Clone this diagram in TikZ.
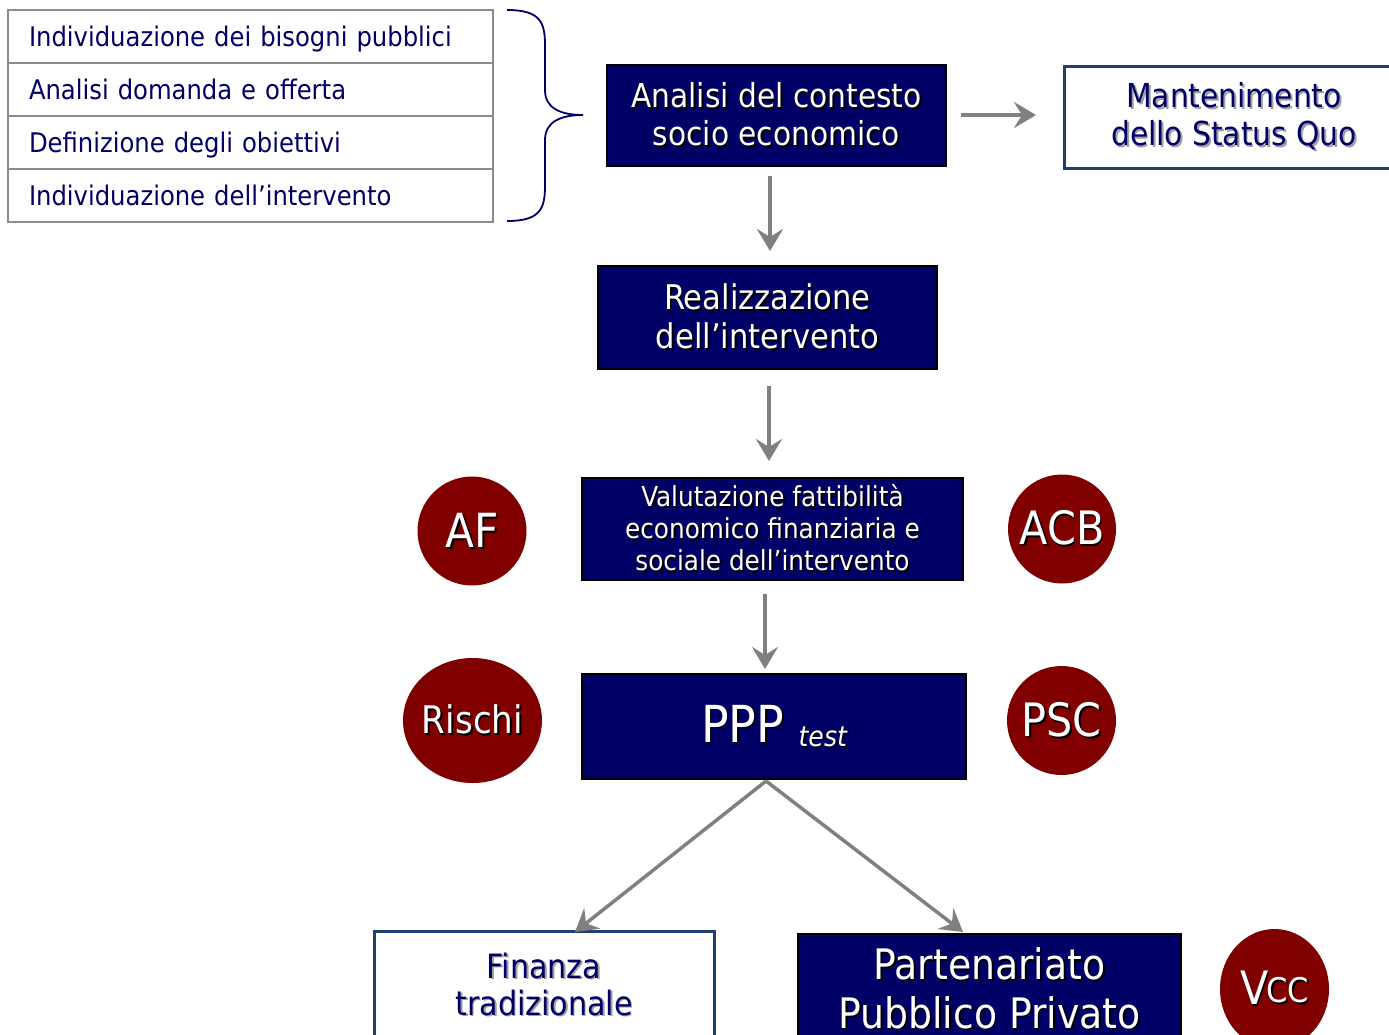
\documentclass[tikz,border=0pt]{standalone}
\usepackage{fontspec}
\setmainfont{DejaVu Sans Condensed}
\usetikzlibrary{arrows.meta,shapes.geometric}
\definecolor{navy}{HTML}{000066}
\definecolor{framblue}{HTML}{1F3F6F}
\definecolor{maroon}{HTML}{800000}
\definecolor{arrgray}{HTML}{808080}
\definecolor{tabgray}{HTML}{8C8C8C}
\definecolor{shgray}{HTML}{A0A0A0}
\newcommand\shw[1]{\leavevmode\rlap{\kern1.8pt\raisebox{-1.8pt}{\color{black}#1}}{\color{white}#1}}
\newcommand\shb[1]{\leavevmode\rlap{\kern1.8pt\raisebox{-1.8pt}{\color{shgray}#1}}{\color{navy}#1}}
\tikzset{
  row/.style={draw=tabgray, line width=1.5pt, fill=white, minimum height=53pt, text width=443pt, inner xsep=21pt, inner ysep=0pt, text height=22.5pt, text depth=2.5pt, align=left, text=navy, font=\fontsize{27}{30}\selectfont},
  darkbox/.style={draw=black, line width=1.2pt, fill=navy, align=center, inner sep=0pt},
  whitebox/.style={draw=framblue, line width=3pt, fill=white, align=center, inner sep=0pt},
  boxtext/.style={align=center, inner sep=0pt},
  bubble/.style={ellipse, fill=maroon, inner sep=0pt},
  flow/.style={draw=arrgray, line width=3.5pt, -{Stealth[length=22pt,width=26pt,inset=8pt]}},
}
\begin{document}
\begin{tikzpicture}[x=1pt,y=-1pt]
\useasboundingbox (0,0) rectangle (1389,1034);
\clip (0,0) rectangle (1389,1034);
% table
\node[row] (r1) at (250.5,36.5) {Individuazione dei bisogni pubblici};
\node[row] (r2) at (250.5,89.5) {Analisi domanda e offerta};
\node[row] (r3) at (250.5,142.5) {Definizione degli obiettivi};
\node[row] (r4) at (250.5,195.5) {Individuazione dell’intervento};
% brace
\draw[navy, line width=1.8pt] (507,10) .. controls (540,10) and (545,22) .. (545,45)
  -- (545,90) .. controls (545,108) and (560,115) .. (583,115)
  .. controls (560,115) and (545,122) .. (545,140)
  -- (545,186) .. controls (545,209) and (540,221) .. (507,221);
% boxes
\node[darkbox, minimum width=339pt, minimum height=101pt, font=\fontsize{33}{38}\selectfont] (ac) at (776.5,115.5) {\shw{Analisi del contesto}\\\shw{socio economico}};
\node[whitebox, minimum width=340pt, minimum height=102pt, font=\fontsize{33}{38}\selectfont] (ms) at (1234,117) {\shb{Mantenimento}\\\shb{dello Status Quo}};
\node[darkbox, minimum width=339pt, minimum height=103pt, font=\fontsize{34}{39}\selectfont] (re) at (767.5,317.5) {\shw{Realizzazione}\\\shw{dell’intervento}};
\node[darkbox, minimum width=381pt, minimum height=102pt, font=\fontsize{27.5}{32}\selectfont] (va) at (772.5,529) {\shw{Valutazione fattibilità}\\\shw{economico finanziaria e}\\\shw{sociale dell’intervento}};
\node[darkbox, minimum width=384pt, minimum height=105pt] (pp) at (774,726.5) {\fontsize{51}{54}\selectfont\shw{PPP} \fontsize{28}{30}\selectfont\itshape\raisebox{-4pt}{\shw{test}}};
\node[whitebox, minimum width=340pt, minimum height=130pt] (fi) at (544,996) {};
\node[boxtext, font=\fontsize{33.5}{37}\selectfont] (fit) at (544,985) {\shb{Finanza}\\\shb{tradizionale}};
\node[darkbox, minimum width=383pt, minimum height=130pt] (pa) at (989.5,999) {};
\node[boxtext, font=\fontsize{42}{48.5}\selectfont] (pat) at (989.5,989) {\shw{Partenariato}\\\shw{Pubblico Privato}};
% bubbles
\node[bubble, minimum width=109pt, minimum height=109pt, font=\fontsize{47}{50}\selectfont] (af) at (472,531) {\makebox[0pt]{\shw{AF}}};
\node[bubble, minimum width=108pt, minimum height=109pt, font=\fontsize{46}{50}\selectfont] (acb) at (1062,529) {\makebox[0pt]{\shw{ACB}}};
\node[bubble, minimum width=139pt, minimum height=125pt, font=\fontsize{38}{44}\selectfont] (ri) at (472.5,720.5) {\makebox[0pt]{\shw{Rischi}}};
\node[bubble, minimum width=109pt, minimum height=109pt, font=\fontsize{46}{50}\selectfont] (psc) at (1061.5,720.5) {\makebox[0pt]{\shw{PSC}}};
\node[bubble, minimum width=109pt, minimum height=120pt] (vcc) at (1274.5,989) {\makebox[0pt]{\raisebox{-2pt}{\fontsize{46}{50}\selectfont\shw{V}}\kern-2pt{\fontsize{34}{40}\selectfont\shw{CC}}}};
% arrows
\coordinate (acr) at (961,115);
\draw[flow] (acr) -- (1036,115);
\draw[flow] (770,176) -- (770,251);
\draw[flow] (769,386) -- (769,461);
\draw[flow] (765,594) -- (765,669);
\coordinate (ppb) at (766,781);
\draw[flow] (ppb) -- (575,932);
\draw[flow] (ppb) -- (963,932);
\end{tikzpicture}
\end{document}
